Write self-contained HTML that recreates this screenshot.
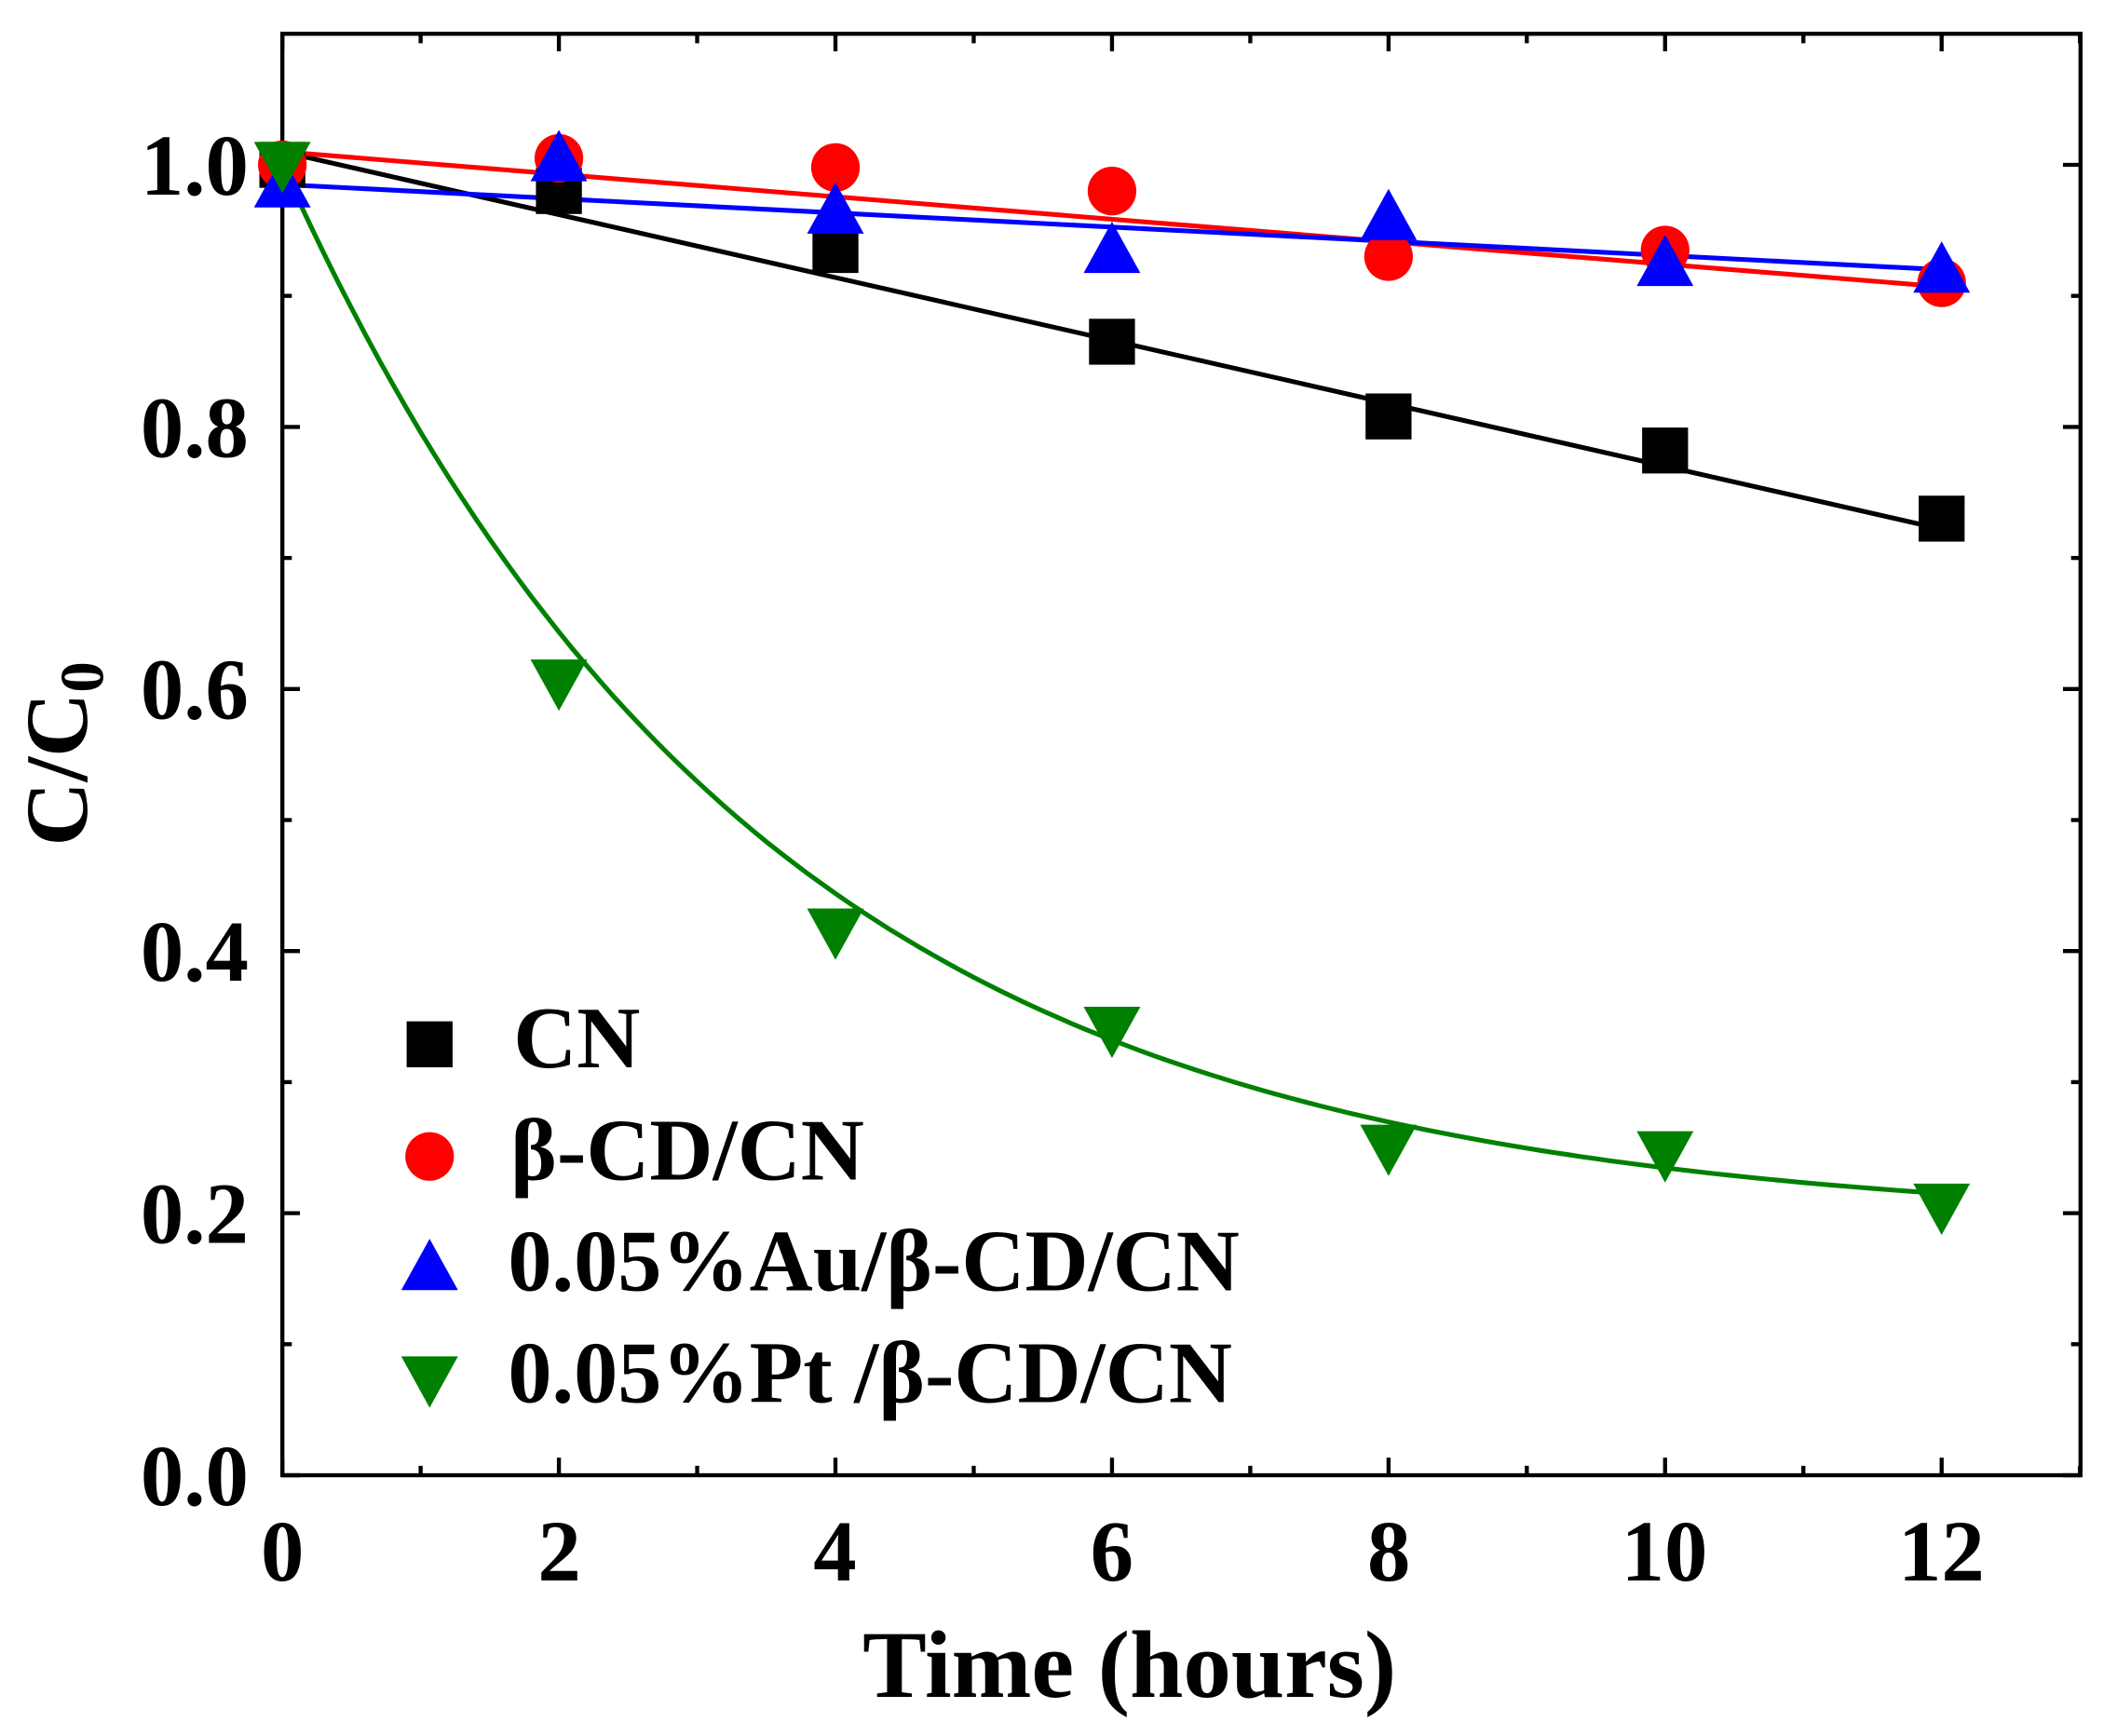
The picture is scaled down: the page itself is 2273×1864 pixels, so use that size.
<!DOCTYPE html>
<html><head><meta charset="utf-8"><style>
html,body{margin:0;padding:0;background:#fff;}
svg{display:block;}
text{font-family:"Liberation Serif",serif;font-weight:bold;fill:#000;}
</style></head><body>
<svg id="s" width="2273" height="1864" viewBox="0 0 1567 1285" xmlns="http://www.w3.org/2000/svg">
<rect x="209" y="25" width="1331" height="1067" fill="none" stroke="#000" stroke-width="3"/>
<g id="ticks" stroke="#000" stroke-width="3"></g>
<g font-size="64" text-anchor="middle">
<text x="209" y="1170">0</text><text x="414" y="1170">2</text><text x="618" y="1170">4</text>
<text x="823" y="1170">6</text><text x="1028" y="1170">8</text><text x="1232" y="1170">10</text><text x="1437" y="1170">12</text>
</g>
<g font-size="64" text-anchor="end">
<text x="184" y="1114">0.0</text><text x="184" y="920">0.2</text><text x="184" y="726">0.4</text>
<text x="184" y="532">0.6</text><text x="184" y="338">0.8</text><text x="184" y="144">1.0</text>
</g>
<text x="836" y="1256" font-size="71" text-anchor="middle">Time (hours)</text>
<text transform="translate(64,558) rotate(-90)" font-size="66" text-anchor="middle">C/C<tspan font-size="46" dy="12">0</tspan></text>
<g id="plot"></g>
<g font-size="65">
<text x="380" y="790">CN</text>
<text x="378" y="873">β-CD/CN</text>
<text x="376" y="955">0.05%Au/β-CD/CN</text>
<text x="376" y="1038">0.05%Pt /β-CD/CN</text>
</g>
</svg>
<script>
const NS="http://www.w3.org/2000/svg";
const X=t=>209+t*102.35, Y=v=>1092-v*970;
const P=document.getElementById('plot'), T=document.getElementById('ticks');
function el(n,a,p){const e=document.createElementNS(NS,n);for(const k in a)e.setAttribute(k,a[k]);(p||P).appendChild(e);return e;}
for(let t=0;t<=13;t++){const x=X(t);const L=t%2?7:13;el('line',{x1:x,y1:1092,x2:x,y2:1092-L},T);el('line',{x1:x,y1:25,x2:x,y2:25+L},T);}
for(let i=0;i<=10;i++){const y=Y(i*0.1);const L=i%2?7:13;el('line',{x1:209,y1:y,x2:209+L,y2:y},T);el('line',{x1:1540,y1:y,x2:1540-L,y2:y},T);}
function sq(x,y,c){el('rect',{x:x-17,y:y-17,width:34,height:34,fill:c});}
function ci(x,y,c){el('circle',{cx:x,cy:y,r:18,fill:c});}
function up(x,y,c){el('polygon',{points:`${x},${y-21} ${x-21},${y+17} ${x+21},${y+17}`,fill:c});}
function dn(x,y,c){el('polygon',{points:`${x},${y+21} ${x-21},${y-17} ${x+21},${y-17}`,fill:c});}
const ts=[0,2,4,6,8,10,12];
el('line',{x1:X(0),y1:Y(1.01),x2:X(12),y2:Y(0.722),stroke:'#000','stroke-width':3.5});
el('line',{x1:X(0),y1:Y(1.01),x2:X(12),y2:Y(0.907),stroke:'#f00','stroke-width':3.5});
el('line',{x1:X(0),y1:Y(0.985),x2:X(12),y2:Y(0.92),stroke:'#00f','stroke-width':3.5});
let d='';for(let t=0;t<=12.001;t+=0.1){const v=0.19+0.81*Math.exp(-0.29*t);d+=(t?'L':'M')+X(t).toFixed(1)+','+Y(v).toFixed(1);}
el('path',{d:d,fill:'none',stroke:'#008000','stroke-width':3.5});
const cn=[1.0,0.98,0.935,0.865,0.808,0.782,0.73];
const cd=[1.0,1.005,0.998,0.98,0.93,0.935,0.91];
const au=[0.985,1.005,0.965,0.935,0.96,0.925,0.92];
const pt=[1.0,0.605,0.415,0.34,0.25,0.245,0.205];
ts.forEach((t,i)=>{sq(X(t),Y(cn[i]),'#000');});
ts.forEach((t,i)=>{ci(X(t),Y(cd[i]),'#f00');});
ts.forEach((t,i)=>{up(X(t),Y(au[i]),'#00f');});
ts.forEach((t,i)=>{dn(X(t),Y(pt[i]),'#008000');});
sq(318,773,'#000');ci(318,856,'#f00');up(318,938,'#00f');dn(318,1021,'#008000');
</script>
</body></html>
